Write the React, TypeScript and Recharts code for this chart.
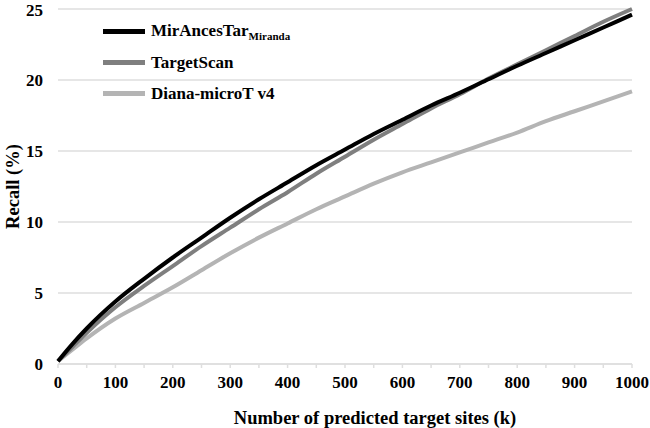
import React from 'react';
import { LineChart, Line, XAxis, YAxis, CartesianGrid } from 'recharts';

const sites = [0, 25, 50, 100, 150, 200, 250, 300, 350, 400, 450, 500, 550, 600, 650, 700, 750, 800, 850, 900, 950, 1000];
const mirAncesTar = [0.2, 1.4, 2.5, 4.4, 6.0, 7.5, 8.9, 10.3, 11.6, 12.8, 14.0, 15.1, 16.2, 17.2, 18.2, 19.1, 20.05, 21.0, 21.9, 22.8, 23.7, 24.6];
const targetScan = [0.2, 1.2, 2.2, 4.0, 5.5, 6.9, 8.3, 9.6, 10.9, 12.1, 13.4, 14.6, 15.8, 16.9, 18.0, 19.0, 20.1, 21.1, 22.1, 23.1, 24.1, 25.0];
const diana = [0.2, 1.0, 1.8, 3.2, 4.3, 5.4, 6.6, 7.8, 8.9, 9.9, 10.9, 11.8, 12.7, 13.5, 14.2, 14.9, 15.6, 16.3, 17.1, 17.8, 18.5, 19.2];

const xTicks = [0, 50, 100, 150, 200, 250, 300, 350, 400, 450, 500, 550, 600, 650, 700, 750, 800, 850, 900, 950, 1000];
const yTicks = [0, 5, 10, 15, 20, 25];

const series = [
  { key: 'mir', name: 'MirAncesTar', sub: 'Miranda', color: '#000000' },
  { key: 'ts', name: 'TargetScan', sub: '', color: '#7f7f7f' },
  { key: 'diana', name: 'Diana-microT v4', sub: '', color: '#b4b4b4' },
];

const data = sites.map((s, i) => ({
  sites: s,
  mir: mirAncesTar[i],
  ts: targetScan[i],
  diana: diana[i],
}));

const FONT = 'Liberation Serif, Times New Roman, Times, DejaVu Serif, serif';
const txt = { fontFamily: FONT, fontWeight: 700, fontSize: 17, fill: '#000' };
const title = { ...txt, fontSize: 18.5 };

export default function App() {
  return (
    <div style={{ position: 'absolute', left: 0, top: 0, width: 650, height: 428, background: '#fff' }}>
      <LineChart width={650} height={428} data={data} margin={{ top: 9, right: 18, left: 0, bottom: 0 }}>
        <CartesianGrid vertical={false} stroke="#dedede" strokeWidth={1.5} />
        <XAxis
          dataKey="sites"
          type="number"
          domain={[0, 1000]}
          ticks={xTicks}
          interval={0}
          height={64}
          tickSize={4}
          tickMargin={8}
          stroke="#dedede"
          strokeWidth={1.5}
          tickFormatter={(v: number) => (v % 100 === 0 ? String(v) : '')}
          tick={txt}
          label={{ value: 'Number of predicted target sites (k)', position: 'insideBottom', offset: 4, dx: 30, style: title }}
        />
        <YAxis
          domain={[0, 25]}
          ticks={yTicks}
          width={58}
          axisLine={false}
          tickLine={false}
          tickSize={0}
          tickMargin={15}
          tick={txt}
          label={{ value: 'Recall (%)', angle: -90, position: 'insideLeft', offset: 12, style: { ...title, textAnchor: 'middle' } }}
        />
        <Line dataKey="diana" type="monotone" stroke="#b4b4b4" strokeWidth={4} dot={false} isAnimationActive={false} />
        <Line dataKey="ts" type="monotone" stroke="#7f7f7f" strokeWidth={4} dot={false} isAnimationActive={false} />
        <Line dataKey="mir" type="monotone" stroke="#000000" strokeWidth={4} dot={false} isAnimationActive={false} />
      </LineChart>
      {/* legend drawn on top of the plot, top-left */}
      <div style={{ position: 'absolute', left: 103, top: 16, fontFamily: FONT, fontWeight: 700, fontSize: 17, color: '#000' }}>
        {series.map((s) => (
          <div key={s.key} style={{ display: 'flex', alignItems: 'center', height: 31 }}>
            <div style={{ width: 42, height: 5, background: s.color, marginRight: 6 }} />
            <span style={{ whiteSpace: 'nowrap' }}>
              {s.name}
              {s.sub && <sub style={{ fontSize: 11 }}>{s.sub}</sub>}
            </span>
          </div>
        ))}
      </div>
    </div>
  );
}
